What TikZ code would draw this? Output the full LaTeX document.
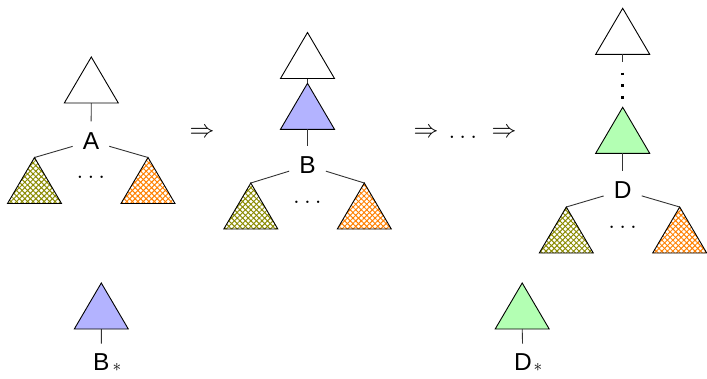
\documentclass[tikz,border=0pt]{standalone}
\usepackage{fontspec}
\setmainfont{Liberation Sans}
\usetikzlibrary{patterns.meta}
\definecolor{bluefill}{HTML}{B3B3FF}
\definecolor{greenfill}{HTML}{B3FFB3}
\definecolor{olivec}{HTML}{8A8A00}
\definecolor{orangec}{HTML}{FF8000}
\newcommand\mytri[4]{%
  \coordinate (#1-t) at (#2,#3);
  \coordinate (#1-b) at (#2,#3+46);
  \path[#4] (#1-t) -- ++(27,46) -- ++(-54,0) -- cycle;}
\newcommand\myhatch[4]{%
  \coordinate (#1-t) at (#2,#3);
  \coordinate (#1-b) at (#2,#3+46);
  \fill[pattern={Lines[angle=45,distance=3.9pt,line width=1.0pt]},pattern color=#4] (#1-t) -- ++(27,46) -- ++(-54,0) -- cycle;
  \fill[pattern={Lines[angle=-45,distance=3.9pt,line width=1.0pt]},pattern color=#4] (#1-t) -- ++(27,46) -- ++(-54,0) -- cycle;
  \draw[outl] (#1-t) -- ++(27,46) -- ++(-54,0) -- cycle;}
\begin{document}
\begin{tikzpicture}[x=1pt,y=-1pt,
  outl/.style={draw=black,line width=0.9pt,line join=miter},
  conn/.style={draw=black!80,line width=0.9pt},
  lab/.style={font=\fontsize{24.5}{29}\selectfont,inner xsep=10pt,inner ysep=11pt},
  arr/.style={font=\fontsize{24}{28}\selectfont,inner sep=0pt},
  dotsn/.style={font=\fontsize{28}{30}\selectfont,inner sep=0pt},
  astn/.style={font=\fontsize{18}{20}\selectfont,inner sep=0pt,anchor=base}]
\useasboundingbox (0,0) rectangle (707,378);
% ---------- tree A ----------
\mytri{Aw}{91.3}{57}{outl,fill=white}
\node[lab] (A) at (91,141) {A};
\myhatch{Al}{34.5}{157.5}{olivec}
\myhatch{Ar}{148}{157.5}{orangec}
\node[dotsn] (Ad) at (91,177.7) {$\ldots$};
\draw[conn] (Aw-b) -- (A);
\draw[conn] (A) -- (Al-t);
\draw[conn] (A) -- (Ar-t);
% ---------- arrow 1 ----------
\node[arr] (ar1) at (202,132.7) {$\Rightarrow$};
% ---------- tree B ----------
\mytri{Bw}{307.5}{32.5}{outl,fill=white}
\mytri{Bb}{307.5}{83.3}{outl,fill=bluefill}
\node[lab] (B) at (307.5,165.5) {B};
\myhatch{Bl}{250.8}{183}{olivec}
\myhatch{Br}{364.3}{183}{orangec}
\node[dotsn] (Bd) at (307.5,202.7) {$\ldots$};
\draw[conn] (Bw-b) -- (Bb-t);
\draw[conn] (Bb-b) -- (B);
\draw[conn] (B) -- (Bl-t);
\draw[conn] (B) -- (Br-t);
% ---------- arrows 2 ----------
\node[arr] (ar2) at (426,133.3) {$\Rightarrow$};
\node[dotsn] (ard) at (462.8,137.3) {$\ldots$};
\node[arr] (ar3) at (504,133.3) {$\Rightarrow$};
% ---------- tree D ----------
\mytri{Dw}{622.7}{8.3}{outl,fill=white}
\mytri{Dg}{622.7}{107.3}{outl,fill=greenfill}
\node[lab] (D) at (622.7,190.3) {D};
\myhatch{Dl}{566.3}{207}{olivec}
\myhatch{Dr}{679.7}{207}{orangec}
\node[dotsn] (Dd) at (622.7,227.3) {$\ldots$};
\coordinate (Dv1) at (622.7,62);
\coordinate (Dv2) at (622.7,72.6);
\coordinate (Dv3) at (622.7,99.4);
\draw[conn] (Dw-b) -- (Dv1);
\draw[line width=2.8pt,dash pattern=on 2.8pt off 8.8pt] (Dv2) -- (Dv3);
\draw[conn] (Dg-b) -- (D);
\draw[conn] (D) -- (Dl-t);
\draw[conn] (D) -- (Dr-t);
% ---------- B_* ----------
\mytri{Bs}{101.3}{283}{outl,fill=bluefill}
\node[lab,inner xsep=0pt,inner ysep=10pt] (BsL) at (101.4,362.2) {B};
\node[astn] (BsS) at (117,371) {$\ast$};
\draw[conn] (Bs-b) -- (BsL);
% ---------- D_* ----------
\mytri{Ds}{522.2}{283}{outl,fill=greenfill}
\node[lab,inner xsep=0pt,inner ysep=10pt] (DsL) at (523,362.2) {D};
\node[astn] (DsS) at (538,371) {$\ast$};
\draw[conn] (Ds-b) -- (DsL);
\end{tikzpicture}
\end{document}
